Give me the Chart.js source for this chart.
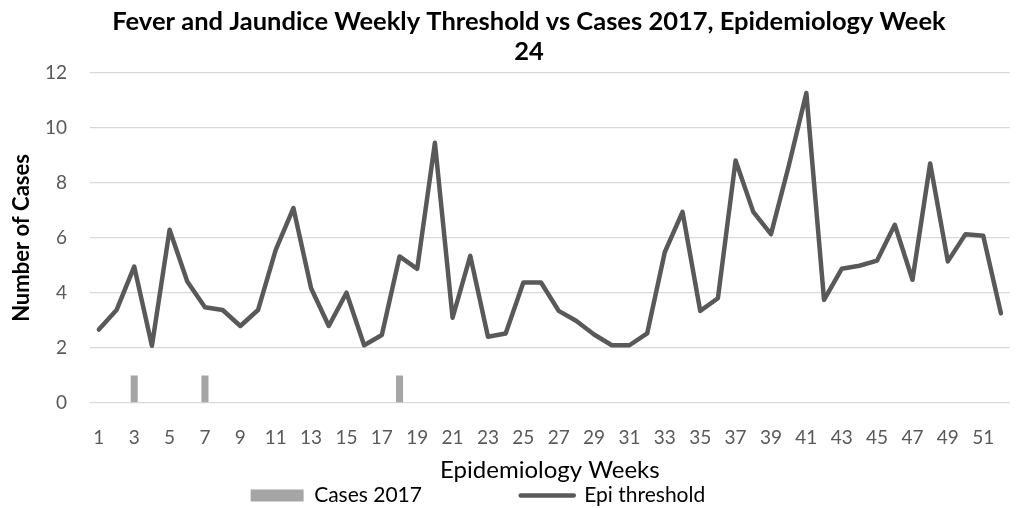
<!DOCTYPE html>
<html>
<head>
<meta charset="utf-8">
<script src="https://cdn.jsdelivr.net/npm/chart.js@4/dist/chart.umd.min.js"></script>
<style>
  html, body { margin: 0; padding: 0; background: #ffffff; }
  #wrap { width: 1024px; height: 508px; }
</style>
</head>
<body>
<div id="wrap"><canvas id="chart"></canvas></div>
<script>
// Epidemiology weeks 1..52
const weeks = Array.from({ length: 52 }, (_, i) => String(i + 1));

// Reported cases in 2017 (weeks 1-24)
const cases2017 = [0, 0, 1, 0, 0, 0, 1, 0, 0, 0, 0, 0, 0, 0, 0, 0, 0, 1, 0, 0, 0, 0, 0, 0,
  null, null, null, null, null, null, null, null, null, null, null, null, null, null, null, null,
  null, null, null, null, null, null, null, null, null, null, null, null];

// Weekly epidemic threshold
const epiThreshold = [
  2.67, 3.38, 4.96, 2.08, 6.30, 4.42, 3.48, 3.38, 2.80, 3.38,
  5.57, 7.09, 4.17, 2.80, 4.01, 2.10, 2.47, 5.33, 4.88, 9.46,
  3.10, 5.35, 2.41, 2.53, 4.38, 4.38, 3.35, 2.98, 2.49, 2.10,
  2.10, 2.53, 5.49, 6.95, 3.35, 3.81, 8.82, 6.95, 6.14, 8.61,
  11.27, 3.75, 4.88, 4.99, 5.18, 6.48, 4.48, 8.71, 5.15, 6.14,
  6.08, 3.26
];

const yTicks = [0, 2, 4, 6, 8, 10, 12];

const FONT = 'Lato, "Open Sans", sans-serif';
const AXIS_GREY = '#595959';
const LEGEND_SIZE = 21;

// Legend entries are spread apart by widening their text run with spaces.
const measureCtx = document.createElement('canvas').getContext('2d');
measureCtx.font = LEGEND_SIZE + 'px ' + FONT;
function padText(text, width) {
  let t = text;
  while (measureCtx.measureText(t).width < width) t += '\u00A0';
  return t;
}
const legendTextWidth = [202, 222];

new Chart(document.getElementById('chart'), {
  data: {
    labels: weeks,
    datasets: [
      {
        type: 'bar',
        label: 'Cases 2017',
        data: cases2017,
        backgroundColor: '#a5a5a5',
        barPercentage: 0.4,
        categoryPercentage: 1.0,
        order: 2
      },
      {
        type: 'line',
        label: 'Epi threshold',
        data: epiThreshold,
        borderColor: '#595959',
        backgroundColor: '#595959',
        borderWidth: 4.5,
        pointRadius: 0,
        tension: 0,
        borderCapStyle: 'round',
        borderJoinStyle: 'round',
        order: 1
      }
    ]
  },
  options: {
    responsive: true,
    maintainAspectRatio: false,
    animation: false,
    layout: { padding: { left: 44, right: 10, top: 0, bottom: -8 } },
    plugins: {
      title: {
        display: true,
        text: ['Fever and Jaundice Weekly Threshold vs Cases 2017, Epidemiology Week', '24'],
        color: '#000000',
        font: { family: FONT, size: 25.5, weight: 'bold', lineHeight: 1.18 },
        padding: { top: 7, bottom: 5.8 }
      },
      legend: {
        display: true,
        position: 'bottom',
        labels: {
          color: '#000000',
          font: { family: FONT, size: LEGEND_SIZE },
          usePointStyle: true,
          pointStyleWidth: 53,
          boxHeight: 12,
          padding: 2,
          sort: (a, b) => a.datasetIndex - b.datasetIndex,
          generateLabels(chart) {
            const items = Chart.defaults.plugins.legend.labels.generateLabels(chart);
            items.forEach((it) => {
              const ds = chart.data.datasets[it.datasetIndex];
              it.text = padText(ds.label, legendTextWidth[it.datasetIndex]);
              if (ds.type === 'line') {
                it.pointStyle = 'line';
                it.lineWidth = 4.5;
                it.strokeStyle = '#595959';
                it.lineCap = 'round';
              } else {
                it.pointStyle = 'rect';
                it.lineWidth = 0;
              }
            });
            return items;
          }
        }
      },
      tooltip: { enabled: false }
    },
    scales: {
      x: {
        type: 'category',
        grid: { display: false, drawTicks: false },
        border: { display: false },
        afterFit(scale) { scale.height = 80; },
        ticks: {
          color: AXIS_GREY,
          font: { family: FONT, size: 19 },
          autoSkip: false,
          maxRotation: 0,
          padding: 23,
          callback(value, index) { return index % 2 === 0 ? weeks[index] : ''; }
        },
        title: {
          display: true,
          text: 'Epidemiology Weeks',
          color: '#000000',
          font: { family: FONT, size: 24, lineHeight: 0.9 },
          padding: { top: 10, bottom: 2 }
        }
      },
      y: {
        min: 0,
        max: 12,
        afterBuildTicks(scale) { scale.ticks = yTicks.map((v) => ({ value: v })); },
        afterFit(scale) { scale.width = 46; },
        grid: { color: '#d9d9d9', lineWidth: 1.3, drawTicks: false },
        border: { display: false },
        ticks: {
          color: AXIS_GREY,
          font: { family: FONT, size: 19 },
          padding: 23
        },
        title: {
          display: true,
          text: 'Number of Cases',
          color: '#000000',
          font: { family: FONT, size: 22, weight: 'bold' },
          padding: { top: -35, bottom: 0 }
        }
      }
    }
  }
});
</script>
</body>
</html>
